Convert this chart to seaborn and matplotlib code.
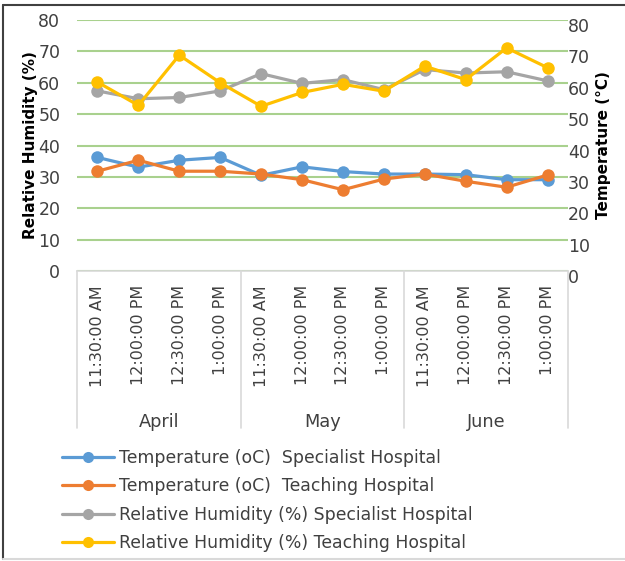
import numpy as np
import pandas as pd
import matplotlib.pyplot as plt
import matplotlib.transforms as mtrans
from matplotlib.lines import Line2D
import seaborn as sns

months = ["April", "May", "June"]
times = ["11:30:00 AM", "12:00:00 PM", "12:30:00 PM", "1:00:00 PM"]

temp_specialist = [36.2, 33.1, 35.3, 36.2, 30.5, 33.2, 31.7, 30.9, 30.9, 30.7, 29.1, 29.1]
temp_teaching = [31.8, 35.3, 31.8, 31.8, 30.9, 29.1, 25.9, 29.3, 30.9, 28.6, 26.7, 30.6]
rh_specialist = [57.4, 54.9, 55.3, 57.4, 62.9, 59.8, 61.0, 57.8, 64.2, 63.1, 63.5, 60.6]
rh_teaching = [60.2, 52.8, 68.8, 60.0, 52.5, 56.9, 59.5, 57.3, 65.3, 61.0, 71.1, 64.8]

labels = [
    "Temperature (oC)  Specialist Hospital",
    "Temperature (oC)  Teaching Hospital",
    "Relative Humidity (%) Specialist Hospital",
    "Relative Humidity (%) Teaching Hospital",
]
colors = ["#5B9BD5", "#ED7D31", "#A5A5A5", "#FFC000"]

x = np.arange(len(months) * len(times))
df = pd.DataFrame({
    "x": np.tile(x, 4),
    "value": temp_specialist + temp_teaching + rh_specialist + rh_teaching,
    "series": np.repeat(labels, len(x)),
})

sns.set_style("white")
plt.rcParams["font.family"] = ["DejaVu Sans"]
plt.rcParams["text.color"] = "#404040"

fig = plt.figure(figsize=(6.25, 5.61), dpi=100)
ax = fig.add_axes([77 / 625, 1 - 271 / 561, 491 / 625, 251 / 561])
ax2 = ax.twinx()

# humidity on primary, temperature on secondary
for lab, col in zip(labels[2:], colors[2:]):
    sub = df[df["series"] == lab]
    sns.lineplot(data=sub, x="x", y="value", ax=ax, color=col, lw=2.3,
                 marker="o", markersize=9, markeredgewidth=0, legend=False)
for lab, col in zip(labels[:2], colors[:2]):
    sub = df[df["series"] == lab]
    sns.lineplot(data=sub, x="x", y="value", ax=ax2, color=col, lw=2.3,
                 marker="o", markersize=9, markeredgewidth=0, legend=False)
ax2.set_zorder(ax.get_zorder() + 1)
ax2.patch.set_visible(False)

for a in (ax, ax2):
    a.set_ylim(0, 80)
    a.set_xlim(-0.5, len(x) - 0.5)
    a.set_yticks(range(0, 81, 10))
    for s in a.spines.values():
        s.set_visible(False)
    a.tick_params(length=0, labelsize=12.5, labelcolor="#404040")

ax.grid(axis="y", color="#A9D18E", lw=1.5)
ax.grid(axis="x", visible=False)
ax2.grid(False)
ax.spines["bottom"].set_visible(True)
ax.spines["bottom"].set_color("#D9D9D9")
ax.spines["bottom"].set_linewidth(1.2)

ax.set_xticks(x)
ax.set_xticklabels(times * len(months), rotation=90, fontsize=11.5, va="top")
ax.tick_params(axis="x", pad=10)
ax.tick_params(axis="y", pad=12)
ax2.tick_params(axis="y", pad=0)
for t in ax2.get_yticklabels():
    t.set_transform(t.get_transform() + mtrans.ScaledTranslation(0, -5 / 100, fig.dpi_scale_trans))

ax.set_xlabel("")
ax2.set_xlabel("")
ax.set_ylabel("Relative Humidity (%)", fontsize=11, fontweight="bold", color="black", labelpad=0)
ax2.set_ylabel("Temperature (°C)", fontsize=11, fontweight="bold", color="black", labelpad=4)

# month grouping
trans = ax.get_xaxis_transform()
for b in [-0.5, 3.5, 7.5, 11.5]:
    ax.add_line(Line2D([b, b], [0, -157 / 251], transform=trans, color="#D9D9D9",
                       lw=1.2, clip_on=False))
for i, m in enumerate(months):
    ax.text(i * 4 + 1.5, -151 / 251, m, transform=trans, ha="center", va="center",
            fontsize=12.8, color="#404040")

handles = [Line2D([], [], color=c, lw=2.3, marker="o", markersize=8, markeredgewidth=0)
           for c in colors]
fig.legend(handles, labels, loc="upper left", bbox_to_anchor=(62 / 625, 1 - 449 / 561),
           frameon=False, fontsize=12.4, handlelength=3.0, handletextpad=0.3,
           labelspacing=0.6, borderpad=0, borderaxespad=0, labelcolor="#404040")

# chart border
fig.add_artist(Line2D([3 / 625, 3 / 625], [2 / 561, 1 - 5 / 561], transform=fig.transFigure,
                      color="#404040", lw=1.5))
fig.add_artist(Line2D([3 / 625, 1], [1 - 5 / 561, 1 - 5 / 561], transform=fig.transFigure,
                      color="#404040", lw=1.5))
fig.add_artist(Line2D([3 / 625, 1], [2 / 561, 2 / 561], transform=fig.transFigure,
                      color="#D9D9D9", lw=1.5))

fig.savefig("out.png", dpi=100)
